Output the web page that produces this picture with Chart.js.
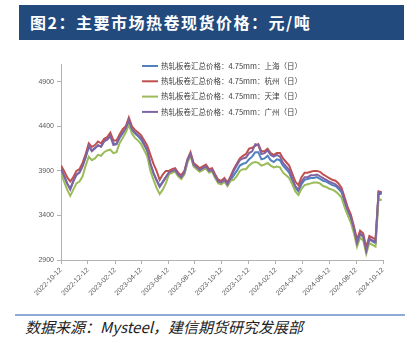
<!DOCTYPE html>
<html>
<head>
<meta charset="utf-8">
<script src="https://cdn.jsdelivr.net/npm/chart.js@4.4.1/dist/chart.umd.min.js"></script>
<style>
    body { margin: 0; width: 414px; height: 340px; background: #fff; position: relative; overflow: hidden; }
    .title { position: absolute; left: 19px; top: 5px; width: 385px; height: 35px; background: #234a7c;
             color: #fff; font: bold 16px "Noto Sans CJK SC"; line-height: 35px; letter-spacing: 1.5px; padding-left: 11px; box-sizing: border-box; }
    .chart-box { position: absolute; left: 0; top: 44px; width: 414px; height: 268px; }
    .rule { position: absolute; left: 15px; top: 314px; width: 390px; height: 2px; background: #8eaadb; }
    .source { position: absolute; left: 25px; top: 318px; font: italic 15px "Noto Sans CJK SC"; line-height: 18px; color: #222; }
</style>
</head>
<body>
<div class="title">图2：主要市场热卷现货价格：元/吨</div>
<div class="chart-box"><canvas id="priceChart"></canvas></div>
<div class="rule"></div>
<div class="source">数据来源：Mysteel，建信期货研究发展部</div>

<script>
// weekly readings starting 2022-10-12 (index * 7 days)
const startDate = "2022-10-12";
const tickLabels = ["2022-10-12", "2022-12-12", "2023-02-12", "2023-04-12", "2023-06-12", "2023-08-12", "2023-10-12",
                    "2023-12-12", "2024-02-12", "2024-04-12", "2024-06-12", "2024-08-12", "2024-10-12"];
const yTicks = [2900, 3400, 3900, 4400, 4900];

const seriesNames = ["热轧板卷汇总价格：4.75mm：上海（日）", "热轧板卷汇总价格：4.75mm：杭州（日）",
                     "热轧板卷汇总价格：4.75mm：天津（日）", "热轧板卷汇总价格：4.75mm：广州（日）"];

const shanghai = [3910,3840,3760,3700,3790,3850,3890,3960,4050,4170,4130,4160,4180,4180,4240,4260,4300,4210,4200,4270,4320,
    4370,4450,4360,4320,4290,4250,4190,4120,
    3980,3870,3800,3730,3780,3830,
    3880,3890,3900,3860,3820,3870,4010,4080,3970,3930,3900,3920,3940,3890,3900,3830,3770,3760,3790,3740,3800,
    3850,3900,3960,3980,3990,4030,4060,4110,4110,4030,4040,4070,4020,4000,4030,
    4020,3960,3920,3880,3790,3710,3670,3750,3800,3810,3820,3820,3830,3810,3790,3780,3760,3740,3730,3700,
    3660,3550,3450,3370,3240,3080,3190,3160,3000,3130,3110,3090,3650,3640];

const hangzhou = [3960,3900,3830,3780,3830,
    3900,3920,3990,4090,4210,4170,4190,4230,4210,4260,4280,4330,4240,4240,4310,4370,
    4400,4500,4400,4360,4330,4300,4240,4180,
    4080,3980,3900,3800,3860,3900,
    3900,3920,3930,3880,3850,3900,4030,4110,3990,3960,3930,3950,3970,3920,3930,3860,3800,3790,3820,3770,3840,
    3920,3980,4040,4070,4090,4150,4160,4180,4200,4120,4120,4150,4100,4080,4100,
    4100,4040,4000,3960,3870,3780,3740,3830,3880,3880,3890,3900,3900,3890,3860,3840,3820,3800,3790,3760,
    3710,3600,3490,3410,3280,3130,3230,3200,3040,3170,3150,3130,3670,3660];

const tianjin = [3880,3780,3690,3620,3690,
    3760,3780,3840,3960,4060,4020,4040,4080,
    4070,4110,4130,4140,4100,4110,
    4210,4270,4330,4420,
    4320,4270,4240,4200,4130,4060,
    3900,3800,3710,3640,3690,3760,
    3860,3880,3890,3840,3810,3860,3990,4070,3950,3920,3890,3910,3930,3880,3890,3820,3760,3750,3780,3730,3790,
    3800,3840,3900,3920,3920,3960,3990,4000,3990,3960,3970,3990,3960,3940,3950,
    3940,3880,3850,3820,3750,3670,3630,3700,3740,3750,3760,3770,3770,3760,3730,3720,3700,3690,3670,3640,
    3600,3490,3400,3320,3200,3050,3150,3120,2970,3090,3070,3050,3590,3570];

const guangzhou = [3930,3850,3760,3690,3780,3860,3880,3950,4060,4180,
    4120,4150,4190,4170,4230,4250,4290,4190,4200,4280,
    4330,4380,4470,4370,4330,4300,4270,4200,4130,3980,
    3880,3790,3720,3770,3830,3880,3900,3910,3860,3830,
    3880,4020,4090,3970,3940,3910,3930,3950,3900,3910,
    3840,3780,3770,3800,3750,3820,3900,3960,4020,4040,
    4050,4100,4120,4200,4190,4090,4100,4130,4080,4060,
    4080,4060,3990,3950,3910,3820,3730,3690,3780,3830,
    3830,3850,3850,3860,3840,3820,3800,3780,3765,3750,
    3720,3680,3560,3460,3380,3250,3090,3200,3170,3000,
    3140,3120,3100,3660,3650];

const colors = ["#4f81bd", "#c0504d", "#9bbb59", "#8064a2"];
const allSeries = [shanghai, hangzhou, tianjin, guangzhou];

// days since startDate for a "YYYY-MM-DD" string
function dayOffset(s) {
    return Math.round((Date.parse(s) - Date.parse(startDate)) / 86400000);
}
const tickDays = tickLabels.map(dayOffset);

// Excel-like legend drawn inside the plot
const insideLegend = {
    id: "insideLegend",
    afterDraw(chart) {
        const ctx = chart.ctx;
        const area = chart.chartArea;
        ctx.save();
        ctx.font = '7.5px "Noto Sans CJK SC"';
        ctx.textBaseline = "middle";
        chart.data.datasets.forEach((ds, i) => {
            const y = area.top + 2 + i * 15.3;
            const x = area.left + 81;
            ctx.strokeStyle = ds.borderColor;
            ctx.lineWidth = 2;
            ctx.beginPath();
            ctx.moveTo(x, y);
            ctx.lineTo(x + 16, y);
            ctx.stroke();
            ctx.fillStyle = "#404040";
            ctx.fillText(ds.label, x + 19, y);
        });
        ctx.restore();
    }
};

const datasets = allSeries.map((values, i) => ({
    label: seriesNames[i],
    data: values.map((v, k) => ({ x: k * 7, y: v })),
    borderColor: colors[i],
    borderWidth: 2,
    pointRadius: 0,
    tension: 0,
    order: 3 - i   // purple on top, as in Excel
}));

new Chart(document.getElementById("priceChart"), {
    type: "line",
    data: { datasets: datasets },
    options: {
        responsive: true,
        maintainAspectRatio: false,
        animation: false,
        layout: { padding: { top: 20, right: 31, left: 0, bottom: 0 } },
        plugins: { legend: { display: false }, tooltip: { enabled: false } },
        scales: {
            x: {
                type: "linear",
                min: 0,
                max: tickDays[tickDays.length - 1],
                afterBuildTicks: (scale) => { scale.ticks = tickDays.map(v => ({ value: v })); },
                afterFit: (scale) => { scale.height = 52; },
                border: { color: "#b3b3b3", width: 1 },
                grid: { drawOnChartArea: false, color: "#b3b3b3", tickLength: 4 },
                ticks: {
                    autoSkip: false,
                    minRotation: 45,
                    maxRotation: 45,
                    padding: 2,
                    color: "#595959",
                    font: { family: "Liberation Sans", size: 7 },
                    callback: (v, i) => tickLabels[i]
                }
            },
            y: {
                min: 2900,
                max: 5100,
                afterBuildTicks: (scale) => { scale.ticks = yTicks.map(v => ({ value: v })); },
                afterFit: (scale) => { scale.width = 61; },
                border: { color: "#b3b3b3", width: 1 },
                grid: { drawOnChartArea: false, color: "#b3b3b3", tickLength: 4 },
                ticks: {
                    padding: 3,
                    color: "#595959",
                    font: { family: "Liberation Sans", size: 7 },
                    callback: (v) => String(v)
                }
            }
        }
    },
    plugins: [insideLegend]
});
</script>
</body>
</html>
